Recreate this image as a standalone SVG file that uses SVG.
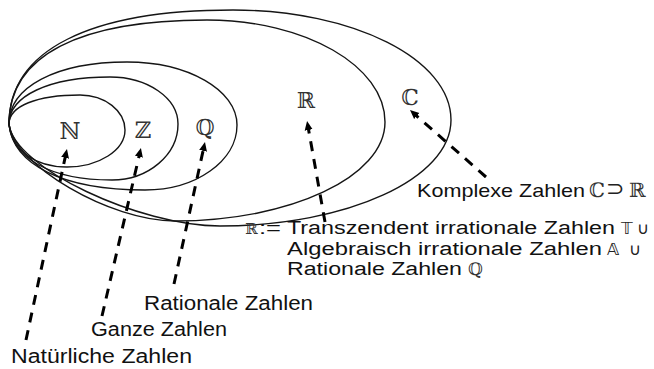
<svg xmlns="http://www.w3.org/2000/svg" width="654" height="369" viewBox="0 0 654 369">
  <style>
    .set { fill: none; stroke: #151515; stroke-width: 1.4; }
    .sym { font-family: "DejaVu Serif", "DejaVu Sans", serif; fill: #333; }
    .lbl { font-family: "Liberation Sans", Arial, sans-serif; fill: #111; }
    .math { font-family: "DejaVu Sans", "DejaVu Serif", sans-serif; fill: #222; }
    .arrow { fill: none; stroke: #000; stroke-width: 3; stroke-dasharray: 10 8; marker-end: url(#head); }
  </style>
  <defs>
    <marker id="head" markerUnits="userSpaceOnUse" viewBox="0 -5 10 10" refX="3" refY="0" markerWidth="10" markerHeight="10" orient="auto">
      <path d="M0,-4 L9,0 L0,4 Z" fill="#000"/>
    </marker>
  </defs>
  <rect width="654" height="369" fill="#fff"/>

  <g id="set-C">
    <path class="set" d="M9,124 C9,50 90,10 233,10 C353,10 451,59 451,120 C451,178.5 347.5,226 220,226 C140,226 14,168 9,124 Z"/>
    <text class="sym" x="410" y="105" font-size="22" text-anchor="middle">ℂ</text>
  </g>
  <g id="set-R">
    <path class="set" d="M9,124 C9,55 80,20 207,20 C305,20 385,66 385,122 C385,176.6 291,221 175,221 C110,221 14,165 9,124 Z"/>
    <text class="sym" x="306" y="108" font-size="22" text-anchor="middle">ℝ</text>
  </g>
  <g id="set-Q">
    <path class="set" d="M9,124 C9,87 56,62 127,62 C188,62 237,90 237,125 C237,161 196,190 145,190 C63,190 13,165 9,124 Z"/>
    <text class="sym" x="205" y="135" font-size="22" text-anchor="middle">ℚ</text>
  </g>
  <g id="set-Z">
    <path class="set" d="M9,124 C9,96 49,77 110,77 C147.5,77 178,98 178,124 C178,155 148,180 112,180 C50,180 12,158 9,124 Z"/>
    <text class="sym" x="143" y="138" font-size="23" text-anchor="middle">ℤ</text>
  </g>
  <g id="set-N">
    <path class="set" d="M9,124 C9,106 37,95 80,95 C105,95 125,111 125,130 C125,150 99,167 67,167 C35,167 12,150 9,124 Z"/>
    <text class="sym" x="70" y="139" font-size="23" text-anchor="middle">ℕ</text>
  </g>

  <g id="connectors">
    <path class="arrow" d="M26,340 L65.7,154.9"/>
    <path class="arrow" d="M102,316 L139.6,153.8"/>
    <path class="arrow" d="M174,284 L203.7,147.9"/>
    <path class="arrow" d="M325,222 L308.1,127"/>
    <path class="arrow" d="M486,177 L414.5,114"/>
  </g>

  <g id="label-komplex">
    <text class="lbl" x="417" y="197" font-size="19" textLength="168" lengthAdjust="spacingAndGlyphs">Komplexe Zahlen</text>
    <text class="sym" x="589" y="197" font-size="20">ℂ</text>
    <text class="math" x="606" y="196" font-size="22">⊃</text>
    <text class="sym" x="629" y="197" font-size="20">ℝ</text>
  </g>

  <g id="label-reell">
    <text class="sym" x="245" y="234" font-size="15">ℝ</text>
    <text class="lbl" x="259" y="234" font-size="18" textLength="22" lengthAdjust="spacingAndGlyphs">:=</text>
    <text class="lbl" x="287" y="234" font-size="18" textLength="328" lengthAdjust="spacingAndGlyphs">Transzendent irrationale Zahlen</text>
    <text class="math" x="621" y="234" font-size="16.5">𝕋</text>
    <text class="math" x="637" y="234" font-size="16.5">∪</text>
    <text class="lbl" x="287" y="254.5" font-size="18" textLength="315" lengthAdjust="spacingAndGlyphs">Algebraisch irrationale Zahlen</text>
    <text class="math" x="607" y="254.5" font-size="16.5">𝔸</text>
    <text class="math" x="629" y="254.5" font-size="16.5">∪</text>
    <text class="lbl" x="287" y="275" font-size="18" textLength="175" lengthAdjust="spacingAndGlyphs">Rationale Zahlen</text>
    <text class="sym" x="468" y="275" font-size="17">ℚ</text>
  </g>

  <g id="label-rational">
    <text class="lbl" x="144" y="310" font-size="20" textLength="169" lengthAdjust="spacingAndGlyphs">Rationale Zahlen</text>
  </g>
  <g id="label-ganz">
    <text class="lbl" x="91" y="336" font-size="20" textLength="136" lengthAdjust="spacingAndGlyphs">Ganze Zahlen</text>
  </g>
  <g id="label-natuerlich">
    <text class="lbl" x="11" y="363" font-size="20" textLength="181" lengthAdjust="spacingAndGlyphs">Natürliche Zahlen</text>
  </g>
</svg>
